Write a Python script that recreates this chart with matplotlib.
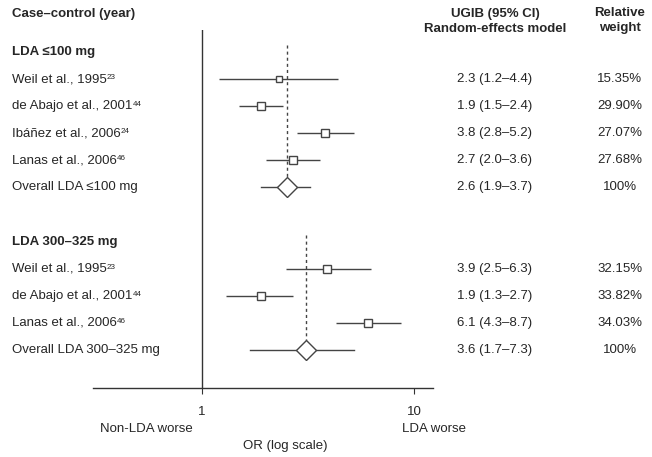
import numpy as np
import matplotlib
matplotlib.use('Agg')
import matplotlib.pyplot as plt
from matplotlib.transforms import blended_transform_factory
from matplotlib.ticker import NullLocator

plt.rcParams['font.family'] = ['Liberation Sans', 'DejaVu Sans']

# --- data -------------------------------------------------------------
g1_title = "LDA \u2264100 mg"
g1_studies = ["Weil et al., 1995", "de Abajo et al., 2001",
              "Ib\u00e1\u00f1ez et al., 2006", "Lanas et al., 2006"]
g1_refs = ["23", "44", "24", "46"]
g1_or = [2.3, 1.9, 3.8, 2.7]
g1_lo = [1.2, 1.5, 2.8, 2.0]
g1_hi = [4.4, 2.4, 5.2, 3.6]
g1_weight = [15.35, 29.90, 27.07, 27.68]
g1_ci_text = ["2.3 (1.2\u20134.4)", "1.9 (1.5\u20132.4)",
              "3.8 (2.8\u20135.2)", "2.7 (2.0\u20133.6)"]
g1_weight_text = ["15.35%", "29.90%", "27.07%", "27.68%"]
g1_overall_label = "Overall LDA \u2264100 mg"
g1_overall = 2.53        # position of the diamond as drawn
g1_overall_lo = 1.89
g1_overall_hi = 3.23
g1_overall_text = "2.6 (1.9\u20133.7)"

g2_title = "LDA 300\u2013325 mg"
g2_studies = ["Weil et al., 1995", "de Abajo et al., 2001", "Lanas et al., 2006"]
g2_refs = ["23", "44", "46"]
g2_or = [3.9, 1.9, 6.1]
g2_lo = [2.5, 1.3, 4.3]
g2_hi = [6.3, 2.7, 8.7]
g2_weight = [32.15, 33.82, 34.03]
g2_ci_text = ["3.9 (2.5\u20136.3)", "1.9 (1.3\u20132.7)", "6.1 (4.3\u20138.7)"]
g2_weight_text = ["32.15%", "33.82%", "34.03%"]
g2_overall_label = "Overall LDA 300\u2013325 mg"
g2_overall = 3.08
g2_overall_lo = 1.68
g2_overall_hi = 5.23
g2_overall_text = "3.6 (1.7\u20137.3)"

W, H = 652, 457
TXT = '#262626'
LINE = '#444444'
FS = 9.5

fig = plt.figure(figsize=(W / 100, H / 100), dpi=100)
ax = fig.add_axes([93 / W, 1 - 388 / H, (433 - 93) / W, (388 - 30) / H])
ax.set_xscale('log')
ax.set_xlim(10 ** ((93 - 202) / 212), 10 ** ((433 - 202) / 212))
ax.set_ylim(12.40, -0.81)
for s in ['top', 'right', 'left']:
    ax.spines[s].set_visible(False)
ax.spines['bottom'].set_color('#333333')
ax.spines['bottom'].set_linewidth(1.0)
ax.set_yticks([])
ax.set_xticks([1, 10], labels=['1', '10'])
ax.xaxis.set_minor_locator(NullLocator())
ax.tick_params(axis='x', length=4, width=0.8, color='#333333', pad=9,
               labelsize=FS, labelcolor=TXT)
ax.axvline(1, color='#333333', lw=1.0)

row_tr = blended_transform_factory(fig.transFigure, ax.transData)


def px(x, y):
    return x / W, 1 - y / H


def draw_group(y0, title, studies, refs, ors, los, his, weights, ci_text, w_text,
               ov_label, ov, ov_lo, ov_hi, ov_text):
    fig.text(12 / W, y0, title, transform=row_tr, fontsize=FS, fontweight='bold',
             color=TXT, va='center', ha='left')
    ys = y0 + 1 + np.arange(len(studies))
    for y, name, ref, o, lo, hi, w, ct, wt in zip(ys, studies, refs, ors, los, his,
                                                  weights, ci_text, w_text):
        ax.plot([lo, hi], [y, y], color=LINE, lw=1.0, solid_capstyle='butt')
        ax.plot([o], [y], marker='s', ms=1.1 * np.sqrt(w), mfc='white',
                mec=LINE, mew=1.0, color=LINE)
        t = fig.text(12 / W, y, name, transform=row_tr,
                     fontsize=FS, color=TXT, va='center', ha='left')
        # superscript reference number right after the study name
        ax.annotate(ref, xy=(1.0, 0.93), xycoords=t, xytext=(0.1, 0),
                    textcoords='offset points', fontsize=5.8, color=TXT,
                    va='top', ha='left', annotation_clip=False)
        fig.text(495 / W, y, ct, transform=row_tr, fontsize=FS, color=TXT,
                 va='center', ha='center')
        fig.text(620 / W, y, wt, transform=row_tr, fontsize=FS, color=TXT,
                 va='center', ha='center')
    yo = ys[-1] + 1
    ax.vlines(ov, y0 - 0.26, yo - 0.37, color=LINE, lw=1.0, linestyles=(0, (2.2, 2.2)))
    ax.plot([ov_lo, ov_hi], [yo, yo], color=LINE, lw=1.0)
    ax.plot([ov], [yo], marker='D', ms=10, mfc='white', mec=LINE, mew=1.0)
    fig.text(12 / W, yo, ov_label, transform=row_tr, fontsize=FS, color=TXT,
             va='center', ha='left')
    fig.text(495 / W, yo, ov_text, transform=row_tr, fontsize=FS, color=TXT,
             va='center', ha='center')
    fig.text(620 / W, yo, "100%", transform=row_tr, fontsize=FS, color=TXT,
             va='center', ha='center')


draw_group(0, g1_title, g1_studies, g1_refs, g1_or, g1_lo, g1_hi, g1_weight,
           g1_ci_text, g1_weight_text, g1_overall_label, g1_overall,
           g1_overall_lo, g1_overall_hi, g1_overall_text)
draw_group(7, g2_title, g2_studies, g2_refs, g2_or, g2_lo, g2_hi, g2_weight,
           g2_ci_text, g2_weight_text, g2_overall_label, g2_overall,
           g2_overall_lo, g2_overall_hi, g2_overall_text)

# headers
fig.text(*px(12, 14), "Case\u2013control (year)", fontsize=FS, fontweight='bold',
         color=TXT, va='center', ha='left')
fig.text(*px(495, 14), "UGIB (95% CI)", fontsize=FS, fontweight='bold',
         color=TXT, va='center', ha='center')
fig.text(*px(495, 29), "Random-effects model", fontsize=FS, fontweight='bold',
         color=TXT, va='center', ha='center')
fig.text(*px(620, 13), "Relative", fontsize=FS, fontweight='bold',
         color=TXT, va='center', ha='center')
fig.text(*px(620, 28), "weight", fontsize=FS, fontweight='bold',
         color=TXT, va='center', ha='center')

# axis annotations
fig.text(*px(146, 429), "Non-LDA worse", fontsize=FS, color=TXT, va='center', ha='center')
fig.text(*px(434, 429), "LDA worse", fontsize=FS, color=TXT, va='center', ha='center')
fig.text(*px(285, 446), "OR (log scale)", fontsize=FS, color=TXT, va='center', ha='center')

fig.savefig('out.png', dpi=100)
